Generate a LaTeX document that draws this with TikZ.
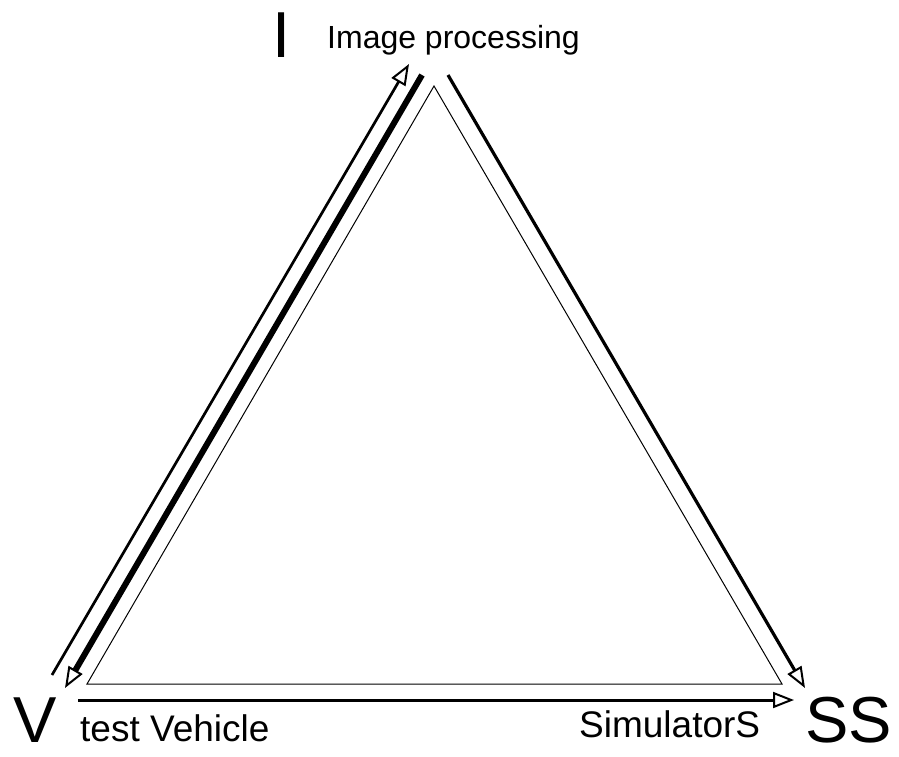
\documentclass[tikz,border=0pt]{standalone}
\usepackage{fontspec}
\setmainfont{Liberation Sans}
\usetikzlibrary{arrows.meta}
\begin{document}
\begin{tikzpicture}[x=1pt,y=-1pt,
  tri/.style={line width=1pt},
  flow/.style={-{Triangle[open,length=21pt,width=16pt,line width=2pt]}},
  lbl/.style={inner sep=0pt,anchor=base west},
  big/.style={lbl,font=\fontsize{65}{70}\selectfont},
  mid/.style={lbl,font=\fontsize{37}{42}\selectfont},
  top/.style={lbl,font=\fontsize{32}{38}\selectfont}]
\useasboundingbox (0,0) rectangle (899,756);
\fill[white] (0,0) rectangle (899,756);
% triangle
\coordinate (A) at (434,86);
\coordinate (B) at (87,684);
\coordinate (C) at (782,684);
\draw[tri] (A) -- (B) -- (C) -- cycle;
% arrow end points
\coordinate (o1) at (52,675);
\coordinate (o2) at (409,64);
\coordinate (t1) at (422,75);
\coordinate (t2) at (65,688);
\coordinate (r1) at (448,75);
\coordinate (r2) at (805,688);
\coordinate (b1) at (78,700);
\coordinate (b2) at (794,700);
\draw[flow,line width=2.7pt] (o1) -- (o2);
\draw[flow,line width=6pt] (t1) -- (t2);
\draw[flow,line width=3.2pt] (r1) -- (r2);
\draw[flow,line width=3pt] (b1) -- (b2);
% labels
\node[big] (I) at (272,57) {I};
\node[top] (ip) at (327,48) {Image processing};
\node[big] (V) at (13,742) {V};
\node[mid] (tv) at (80,741) {test Vehicle};
\node[mid] (sim) at (579,737) {SimulatorS};
\node[big] (SS) at (805,742) {SS};
\end{tikzpicture}
\end{document}
